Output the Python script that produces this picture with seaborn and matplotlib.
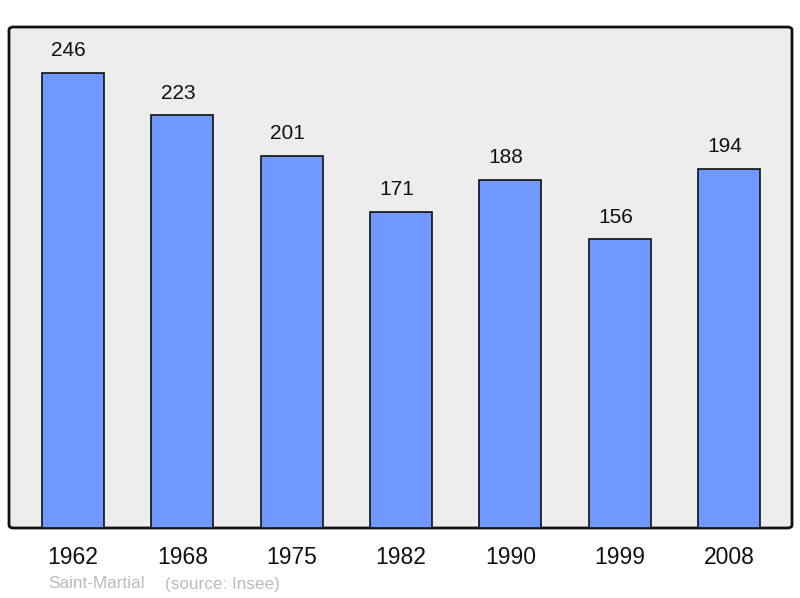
import matplotlib
matplotlib.use("Agg")
import matplotlib.pyplot as plt
import seaborn as sns
import pandas as pd
from matplotlib.patches import FancyBboxPatch

years = ["1962", "1968", "1975", "1982", "1990", "1999", "2008"]
population = [246, 223, 201, 171, 188, 156, 194]
commune = "Saint-Martial"
source = "(source: Insee)"

sns.set_theme(style="white")
plt.rcParams['font.family'] = ['Liberation Sans', 'DejaVu Sans']

df = pd.DataFrame({"year": years, "pop": population})

fig = plt.figure(figsize=(8, 5.98), dpi=100)
ax = fig.add_axes([9/800, 1 - 528/598, (792 - 9)/800, (528 - 27)/598])
ax.patch.set_visible(False)

# rounded background frame
frame = FancyBboxPatch((0, 0), 1, 1, boxstyle="round,pad=0,rounding_size=0.006",
                       transform=ax.transAxes, facecolor="#EDEDED",
                       edgecolor="#111111", linewidth=2, zorder=0, clip_on=False)
ax.add_patch(frame)

sns.barplot(data=df, x="year", y="pop", color="#7099FF", width=0.567,
            edgecolor="#111111", linewidth=1.2, saturation=1, ax=ax, zorder=2)

ax.set_xlim(-0.585, 6.575)
ax.set_ylim(0, 270.8)
for s in ax.spines.values():
    s.set_visible(False)
ax.set_yticks([])
ax.set_xlabel("")
ax.set_ylabel("")
ax.tick_params(axis="x", length=0, pad=13, labelsize=16.5, labelcolor="#111111")

for i, v in enumerate(population):
    ax.annotate(str(v), (i, v), xytext=(-3, 16), textcoords="offset points",
                ha="center", va="center", fontsize=15, color="#111111")

fig.text(48/800, 1 - 584/598, commune, fontsize=12.3,
         color="#BBBBBB", ha="left", va="center")
fig.text(165/800, 1 - 584/598, source, fontsize=12.3,
         color="#BBBBBB", ha="left", va="center")

fig.savefig("out.png", dpi=100)
